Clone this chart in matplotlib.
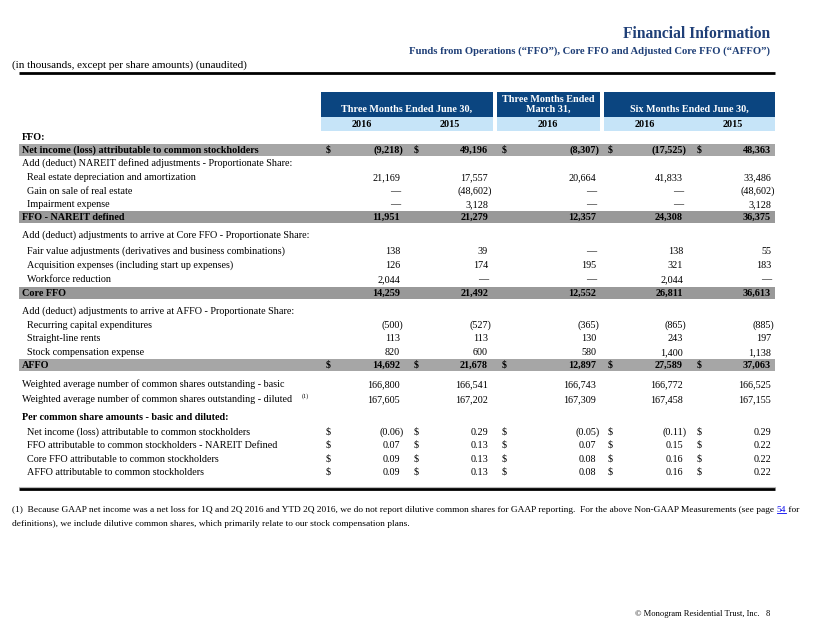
import matplotlib
matplotlib.use("Agg")
import matplotlib.pyplot as plt

plt.rcParams['font.family'] = ['Liberation Serif', 'DejaVu Serif']

# column headers
periods = ["Three Months Ended June 30,", "Three Months Ended\nMarch 31,", "Six Months Ended June 30,"]
years = ["2016", "2015", "2016", "2016", "2015"]

# line items (0 shown as an em dash)
net_income = [-9218, 49196, -8307, -17525, 48363]
re_depreciation = [21169, 17557, 20664, 41833, 33486]
gain_on_sale = [0, -48602, 0, 0, -48602]
impairment = [0, 3128, 0, 0, 3128]
ffo_nareit = [11951, 21279, 12357, 24308, 36375]
fair_value_adj = [138, 39, 0, 138, 55]
acquisition_exp = [126, 174, 195, 321, 183]
workforce_red = [2044, 0, 0, 2044, 0]
core_ffo = [14259, 21492, 12552, 26811, 36613]
recurring_capex = [-500, -527, -365, -865, -885]
straight_line = [113, 113, 130, 243, 197]
stock_comp = [820, 600, 580, 1400, 1138]
affo = [14692, 21678, 12897, 27589, 37063]
shares_basic = [166800, 166541, 166743, 166772, 166525]
shares_diluted = [167605, 167202, 167309, 167458, 167155]
ps_net_income = [-0.06, 0.29, -0.05, -0.11, 0.29]
ps_ffo = [0.07, 0.13, 0.07, 0.15, 0.22]
ps_core_ffo = [0.09, 0.13, 0.08, 0.16, 0.22]
ps_affo = [0.09, 0.13, 0.08, 0.16, 0.22]

rows = [
    ("Net income (loss) attributable to common stockholders", net_income),
    ("Add (deduct) NAREIT defined adjustments - Proportionate Share:", None),
    ("Real estate depreciation and amortization", re_depreciation),
    ("Gain on sale of real estate", gain_on_sale),
    ("Impairment expense", impairment),
    ("FFO - NAREIT defined", ffo_nareit),
    ("Add (deduct) adjustments to arrive at Core FFO - Proportionate Share:", None),
    ("Fair value adjustments (derivatives and business combinations)", fair_value_adj),
    ("Acquisition expenses (including start up expenses)", acquisition_exp),
    ("Workforce reduction", workforce_red),
    ("Core FFO", core_ffo),
    ("Add (deduct) adjustments to arrive at AFFO - Proportionate Share:", None),
    ("Recurring capital expenditures", recurring_capex),
    ("Straight-line rents", straight_line),
    ("Stock compensation expense", stock_comp),
    ("AFFO", affo),
    ("Weighted average number of common shares outstanding - basic", shares_basic),
    ("Weighted average number of common shares outstanding - diluted", shares_diluted),
    ("Per common share amounts - basic and diluted:", None),
    ("Net income (loss) attributable to common stockholders", ps_net_income),
    ("FFO attributable to common stockholders - NAREIT Defined", ps_ffo),
    ("Core FFO attributable to common stockholders", ps_core_ffo),
    ("AFFO attributable to common stockholders", ps_affo),
]

# layout
row_y = [150, 163, 177, 191, 204, 217, 235, 251, 265, 279, 293, 311, 325, 338, 352, 365,
         384, 399, 417, 432, 445, 459, 472]
shaded = {0: '#a6a6a6', 5: '#999999', 10: '#999999', 15: '#a6a6a6'}
bold_rows = {0, 5, 10, 15, 18}
indented = {2, 3, 4, 7, 8, 9, 12, 13, 14, 19, 20, 21, 22}
dollar_rows = {0, 15, 19, 20, 21, 22}
col_right = [400, 488, 596, 683, 771]
dollar_x = [326, 414, 502, 608, 697]

navy = '#0b4580'
title_c = '#1f3f77'
fs = 7.3
base = 2.8  # baseline offset below row centre

fig = plt.figure(figsize=(8.22, 6.35), dpi=100)
ax = fig.add_axes([0, 0, 1, 1])
ax.set_xlim(0, 822)
ax.set_ylim(635, 0)
ax.axis('off')

ax.text(770, 38, "Financial Information", ha='right', va='baseline', fontsize=11.2,
        fontweight='bold', color=title_c)
ax.text(770, 53.5, "Funds from Operations (\u201cFFO\u201d), Core FFO and Adjusted Core FFO (\u201cAFFO\u201d)",
        ha='right', va='baseline', fontsize=7.7, fontweight='bold', color=title_c)
ax.text(12, 68, "(in thousands, except per share amounts) (unaudited)", ha='left', va='baseline',
        fontsize=8.0)
ax.plot([19, 775], [72.5, 72.5], color='black', lw=2, solid_capstyle='butt')

# header boxes
boxes = [(321, 493), (497, 600), (604, 775)]
for (x0, x1), label in zip(boxes, periods):
    ax.add_patch(plt.Rectangle((x0, 92), x1 - x0, 24.5, color=navy, lw=0))
    ax.add_patch(plt.Rectangle((x0, 116.5), x1 - x0, 14.5, color='#c6e4f8', lw=0))
    yy = 109 if '\n' not in label else 104
    ax.text((x0 + x1) / 2, yy, label, ha='center', va='center', fontsize=fs,
            fontweight='bold', color='white', linespacing=1.1)
year_x = [362, 450, 548, 645, 733]
for x, yr in zip(year_x, years):
    ax.text(x, 124 + base, yr, ha='center', va='baseline', fontsize=fs, fontweight='bold')

ax.text(22, 137 + base, "FFO:", ha='left', va='baseline', fontsize=fs, fontweight='bold')


def fmt(v, per_share):
    if v == 0:
        return "\u2014", False
    s = f"{abs(v):.2f}" if per_share else f"{abs(v):,}"
    if v < 0:
        return f"({s})", True
    return s, False


for i, ((label, vals), y) in enumerate(zip(rows, row_y)):
    if i in shaded:
        ax.add_patch(plt.Rectangle((19, y - 6), 756, 12, color=shaded[i], lw=0))
    wt = 'bold' if i in bold_rows else 'normal'
    x0 = 27 if i in indented else 22
    ax.text(x0, y + base, label, ha='left', va='baseline', fontsize=fs, fontweight=wt)
    if vals is None:
        continue
    per_share = i >= 19
    for j, v in enumerate(vals):
        s, neg = fmt(v, per_share)
        ax.text(col_right[j] + (3.5 if neg else 0), y + base, s, ha='right', va='baseline',
                fontsize=fs, fontweight=wt)
        if i in dollar_rows:
            ax.text(dollar_x[j], y + base, "$", ha='left', va='baseline', fontsize=fs, fontweight=wt)

ax.text(302, 396, "(1)", ha='left', va='center', fontsize=4.5)

ax.plot([19, 775], [486.5, 486.5], color='#bbbbbb', lw=0.8)
ax.plot([19, 775], [489, 489], color='black', lw=2, solid_capstyle='butt')

fsn = 6.75
foot1 = ("(1)  Because GAAP net income was a net loss for 1Q and 2Q 2016 and YTD 2Q 2016, we do not report "
         "dilutive common shares for GAAP reporting.  For the above Non-GAAP Measurements (see page ")
t = ax.text(12, 511.5, foot1, ha='left', va='baseline', fontsize=fsn)
fig.canvas.draw()
bb = t.get_window_extent()
inv = ax.transData.inverted()
xe = inv.transform((bb.x1, bb.y0))[0]
t2 = ax.text(xe, 511.5, "54", ha='left', va='baseline', fontsize=fsn, color='#0000ee')
bb2 = t2.get_window_extent()
xe2 = inv.transform((bb2.x1, bb2.y0))[0]
ax.plot([xe, xe2], [513, 513], color='#0000ee', lw=0.6)
ax.text(xe2, 511.5, " for", ha='left', va='baseline', fontsize=fsn)
ax.text(12, 526.5, "definitions), we include dilutive common shares, which primarily relate to our "
        "stock compensation plans.", ha='left', va='baseline', fontsize=fsn)

ax.text(770, 616.5, "\u00a9 Monogram Residential Trust, Inc.   8", ha='right', va='baseline', fontsize=6.1)

fig.savefig("out.png", dpi=100)
